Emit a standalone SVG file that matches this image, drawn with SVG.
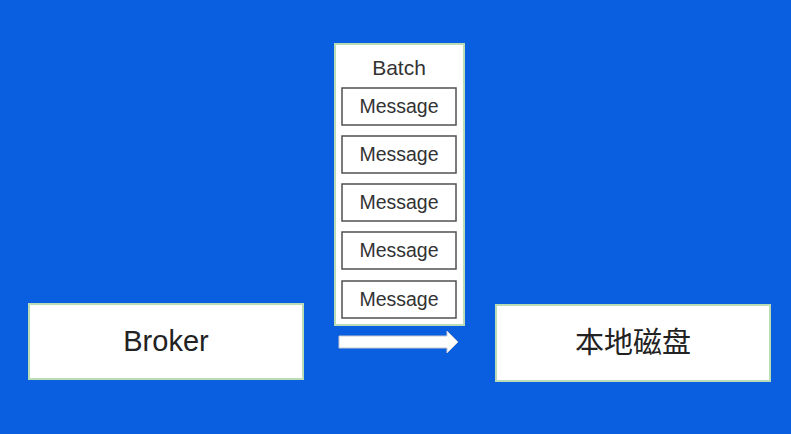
<svg xmlns="http://www.w3.org/2000/svg" width="791" height="434" viewBox="0 0 791 434">
<style>
.bg{fill:#0a5fe0}
.box{fill:#ffffff;stroke:#b9dcb4;stroke-width:2}
.msg{fill:#ffffff;stroke:#505050;stroke-width:1.5}
.t{font-family:"Liberation Sans","Noto Sans CJK SC",sans-serif;fill:#222;text-anchor:middle}
.big{font-size:29px}
.small{font-size:19.5px;fill:#333}
</style>
<rect class="bg" x="0" y="0" width="791" height="434"/>
<g id="broker">
<rect class="box" x="29" y="304" width="274" height="75"/>
<text class="t big" x="166" y="351">Broker</text>
</g>
<g id="disk">
<rect class="box" x="496" y="305" width="274" height="76"/>
<text class="t big" x="633" y="353">本地磁盘</text>
</g>
<g id="batch">
<rect class="box" x="335" y="44" width="129" height="281"/>
<text class="t small" x="399" y="75" style="font-size:21px">Batch</text>
</g>
<g id="msg1"><rect class="msg" x="342" y="88" width="114" height="37"/><text class="t small" x="399" y="113">Message</text></g>
<g id="msg2"><rect class="msg" x="342" y="136" width="114" height="37"/><text class="t small" x="399" y="161">Message</text></g>
<g id="msg3"><rect class="msg" x="342" y="184" width="114" height="37"/><text class="t small" x="399" y="209">Message</text></g>
<g id="msg4"><rect class="msg" x="342" y="232" width="114" height="37"/><text class="t small" x="399" y="257">Message</text></g>
<g id="msg5"><rect class="msg" x="342" y="281" width="114" height="37"/><text class="t small" x="399" y="306">Message</text></g>
<g id="connectors">
<polygon points="339,336 447,336 447,331 458,342 447,353 447,348 339,348" fill="#ffffff" stroke="#c8c8d0" stroke-width="1"/>
</g>
</svg>
